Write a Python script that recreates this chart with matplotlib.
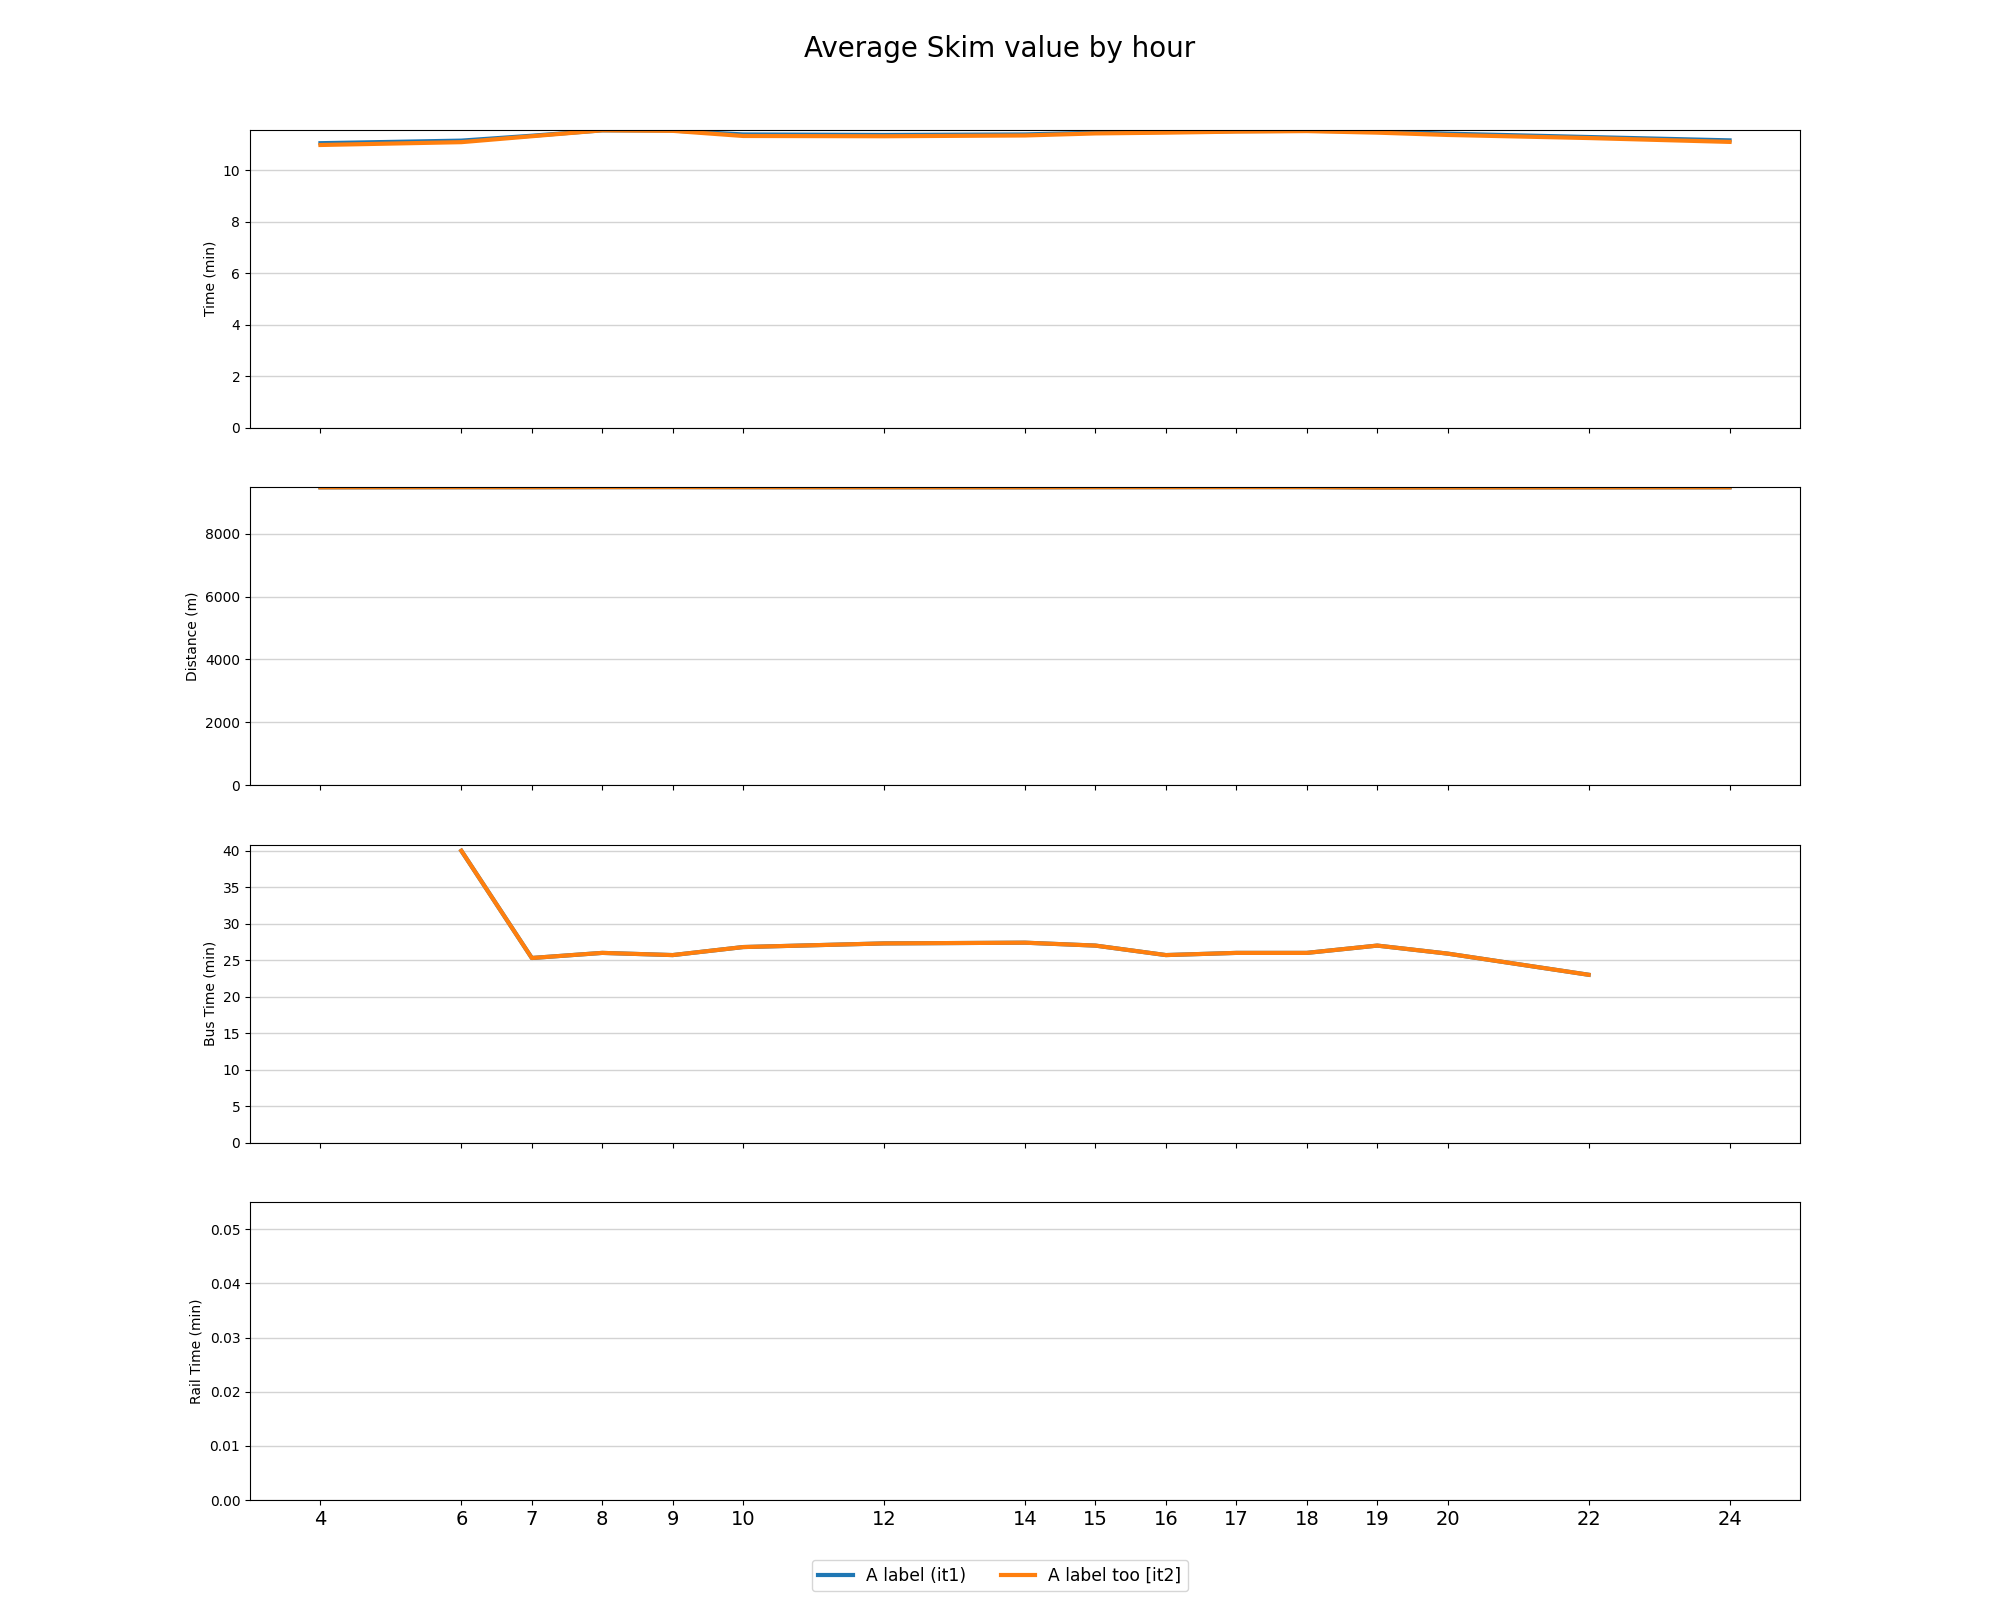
import numpy as np
import matplotlib
matplotlib.use("Agg")
import matplotlib.pyplot as plt

# hours of the day that have skims
hours = [4, 6, 7, 8, 9, 10, 12, 14, 15, 16, 17, 18, 19, 20, 22, 24]

# average auto time (min)
time_it1 = [11.06, 11.16, 11.35, 11.56, 11.55, 11.40, 11.38, 11.40, 11.47, 11.50, 11.53, 11.54, 11.52, 11.43, 11.30, 11.17]
time_it2 = [10.99, 11.10, 11.33, 11.56, 11.54, 11.34, 11.33, 11.36, 11.44, 11.47, 11.51, 11.53, 11.47, 11.38, 11.26, 11.11]

# average distance (m)
dist_it1 = [9486, 9490, 9489, 9492, 9493, 9490, 9487, 9486, 9490, 9491, 9493, 9492, 9479, 9481, 9484, 9487]
dist_it2 = [9486, 9490, 9489, 9492, 9493, 9490, 9487, 9486, 9490, 9491, 9493, 9492, 9479, 9481, 9484, 9487]

# average bus time (min), no service at 4 and 24
bus_it1 = [np.nan, 40.0, 25.3, 26.0, 25.7, 26.8, 27.3, 27.4, 27.0, 25.7, 26.0, 26.0, 27.0, 25.9, 23.0, np.nan]
bus_it2 = [np.nan, 40.0, 25.3, 26.0, 25.7, 26.8, 27.3, 27.4, 27.0, 25.7, 26.0, 26.0, 27.0, 25.9, 23.0, np.nan]

# average rail time (min) - no rail trips at all
rail_it1 = [np.nan] * len(hours)
rail_it2 = [np.nan] * len(hours)

labels = ["A label (it1)", "A label too [it2]"]
ylabels = ["Time (min)", "Distance (m)", "Bus Time (min)", "Rail Time (min)"]

fig, axes = plt.subplots(4, 1, figsize=(20, 16), dpi=100, sharex=True)
fig.subplots_adjust(left=0.125, right=0.9, top=0.919, bottom=0.0625, hspace=0.2)

panels = [(time_it1, time_it2), (dist_it1, dist_it2), (bus_it1, bus_it2), (rail_it1, rail_it2)]
for ax, (a, b), yl in zip(axes, panels, ylabels):
  ax.plot(hours, a, color="#1f77b4", linewidth=3, label=labels[0])
  ax.plot(hours, b, color="#ff7f0e", linewidth=3, label=labels[1])
  ax.set_ylim(bottom=0)
  ax.set_ylabel(yl, fontsize=10)
  ax.grid(axis="y", color="lightgray", linewidth=1)
  ax.set_axisbelow(True)
  ax.tick_params(axis="y", labelsize=10)

# empty rail panel keeps the small default range
axes[3].set_ylim(0, 0.055)

axes[-1].set_xlim(3, 25)
axes[-1].set_xticks(hours)
axes[-1].tick_params(axis="x", labelsize=14)

fig.suptitle("Average Skim value by hour", fontsize=20, y=0.978)
handles, labs = axes[0].get_legend_handles_labels()
fig.legend(handles, labs, loc="lower center", ncol=2, fontsize=12.3, bbox_to_anchor=(0.5, 0.0))

fig.savefig("out.png")
